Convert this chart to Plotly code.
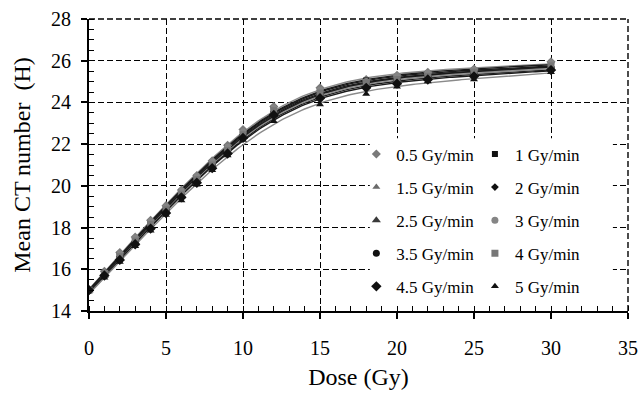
import numpy as np
import plotly.graph_objects as go

doses = [0, 1, 2, 3, 4, 5, 6, 7, 8, 9, 10, 12, 15, 18, 20, 22, 25, 30]

s05 = [15.0, 15.9, 16.8, 17.55, 18.35, 19.05, 19.8, 20.5, 21.2, 21.95, 22.7, 23.8, 24.7, 25.1, 25.3, 25.45, 25.6, 25.95]
s1 = [15.0, 15.85, 16.7, 17.45, 18.2, 18.95, 19.7, 20.4, 21.1, 21.8, 22.55, 23.7, 24.55, 25.05, 25.2, 25.35, 25.5, 25.8]
s15 = [15.0, 15.8, 16.65, 17.4, 18.2, 18.9, 19.65, 20.35, 21.05, 21.75, 22.5, 23.6, 24.5, 24.95, 25.15, 25.3, 25.45, 25.75]
s2 = [15.0, 15.75, 16.6, 17.35, 18.1, 18.85, 19.6, 20.3, 21.0, 21.7, 22.45, 23.55, 24.4, 24.9, 25.1, 25.25, 25.4, 25.7]
s25 = [15.0, 15.7, 16.5, 17.25, 18.0, 18.75, 19.5, 20.2, 20.9, 21.6, 22.35, 23.45, 24.3, 24.8, 25.0, 25.15, 25.3, 25.6]
s3 = [15.0, 15.85, 16.75, 17.5, 18.3, 19.0, 19.75, 20.45, 21.15, 21.85, 22.6, 23.75, 24.6, 25.0, 25.25, 25.4, 25.55, 25.9]
s35 = [15.0, 15.75, 16.55, 17.3, 18.05, 18.8, 19.55, 20.25, 20.95, 21.65, 22.4, 23.5, 24.35, 24.85, 25.05, 25.2, 25.35, 25.65]
s4 = [15.0, 15.8, 16.6, 17.35, 18.15, 18.85, 19.6, 20.3, 21.0, 21.7, 22.45, 23.6, 24.45, 24.95, 25.1, 25.25, 25.45, 25.75]
s45 = [15.0, 15.7, 16.45, 17.2, 17.95, 18.7, 19.45, 20.15, 20.85, 21.55, 22.3, 23.4, 24.2, 24.7, 24.9, 25.1, 25.25, 25.55]
s5 = [15.0, 15.6, 16.35, 17.1, 17.85, 18.6, 19.3, 20.05, 20.75, 21.45, 22.2, 23.1, 23.9, 24.4, 24.75, 25.0, 25.1, 25.45]

series_names = ["0.5 Gy/min", "1 Gy/min", "1.5 Gy/min", "2 Gy/min", "2.5 Gy/min",
                "3 Gy/min", "3.5 Gy/min", "4 Gy/min", "4.5 Gy/min", "5 Gy/min"]
series_values = [s05, s1, s15, s2, s25, s3, s35, s4, s45, s5]
symbols = ["diamond", "square", "triangle-up", "diamond", "triangle-up",
           "circle", "circle", "square", "diamond", "triangle-up"]
colors = ["#7a7a7a", "#111111", "#6a6a6a", "#111111", "#3a3a3a",
          "#858585", "#111111", "#777777", "#111111", "#111111"]
sizes = [7, 6, 7, 6, 8, 7, 7, 7, 8, 7]

FONT = "Liberation Serif"

fig = go.Figure()

# smooth trendline per series: least-squares fit on a linear + smooth-knee basis
xfit = np.linspace(0, 30, 151)
xd = np.array(doses, dtype=float)
def basis(x):
    knee = 3.0 * np.log1p(np.exp((x - 12.0) / 3.0))
    return np.column_stack([np.ones_like(x), x, knee])

for i, (name, vals) in enumerate(zip(series_names, series_values)):
    coef, *_ = np.linalg.lstsq(basis(xd), np.array(vals), rcond=None)
    fig.add_trace(go.Scatter(
        x=xfit, y=basis(xfit) @ coef, mode="lines",
        line=dict(color="#1a1a1a" if i % 3 else "#8a8a8a", width=1.4),
        showlegend=False, hoverinfo="skip"))

for i, (name, vals) in enumerate(zip(series_names, series_values)):
    fig.add_trace(go.Scatter(
        x=doses, y=vals, mode="markers", name=name,
        marker=dict(symbol=symbols[i], size=sizes[i], color=colors[i]),
        legend="legend" if i % 2 == 0 else "legend2",
        legendgroup=name))

axis_common = dict(
    showline=True, linecolor="black", linewidth=2,
    showgrid=True, gridcolor="black", gridwidth=1.4, griddash="6px,3px",
    ticks="outside", ticklen=6, tickwidth=1.5, tickcolor="black",
    tickfont=dict(family=FONT, size=20, color="black"),
    zeroline=False, automargin=False,
)

fig.update_xaxes(
    range=[0, 35], tick0=0, dtick=5,
    minor=dict(dtick=1, ticks="inside", ticklen=5, tickwidth=1.3, tickcolor="black", showgrid=False),
    title=dict(text="Dose (Gy)", font=dict(family=FONT, size=24, color="black"), standoff=10),
    ticklabelstandoff=12,
    **axis_common)
fig.update_yaxes(
    range=[14, 28], tick0=14, dtick=2,
    minor=dict(dtick=0.5, ticks="inside", ticklen=5, tickwidth=1.3, tickcolor="black", showgrid=False),
    title=dict(text="Mean CT number  (H)", font=dict(family=FONT, size=24, color="black"), standoff=14),
    ticklabelstandoff=6,
    **axis_common)

# white backdrop behind legend (hides grid lines there)
fig.add_shape(type="rect", xref="paper", yref="paper", x0=0.521, x1=0.972, y0=0.02, y1=0.592,
              fillcolor="white", line=dict(width=0), layer="above")
# dashed frame lines at range ends
fig.add_shape(type="line", xref="paper", yref="paper", x0=1, x1=1, y0=0, y1=1,
              line=dict(color="black", width=1.4, dash="6px,3px"), layer="below")
fig.add_shape(type="line", xref="paper", yref="paper", x0=0, x1=1, y0=1, y1=1,
              line=dict(color="black", width=1.4, dash="6px,3px"), layer="below")

legend_common = dict(
    bgcolor="rgba(0,0,0,0)", borderwidth=0,
    font=dict(family=FONT, size=17, color="black"),
    tracegroupgap=8, itemwidth=30, itemsizing="trace",
    xanchor="left", yanchor="top",
)
fig.update_layout(
    width=640, height=393,
    margin=dict(l=89, r=12, t=19, b=82),
    paper_bgcolor="white", plot_bgcolor="white",
    legend=dict(x=0.496, y=0.598, **legend_common),
    legend2=dict(x=0.716, y=0.598, **legend_common),
)

fig.write_html("out.html")
